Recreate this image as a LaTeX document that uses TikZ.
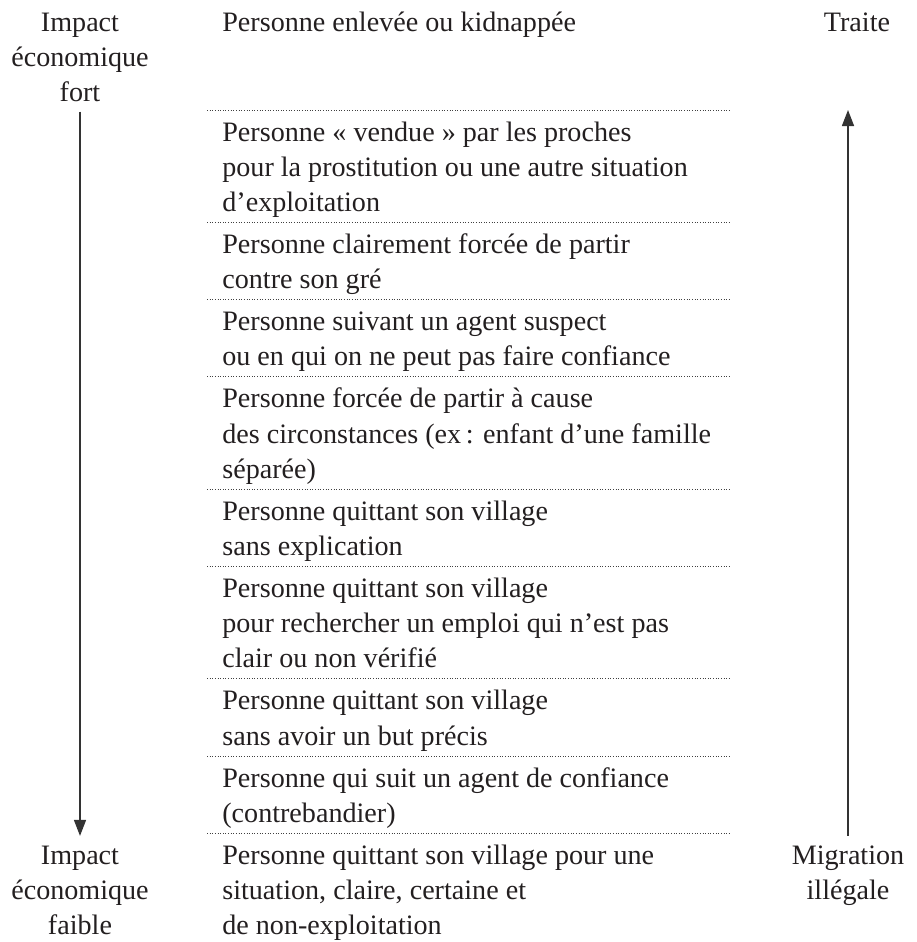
\documentclass[tikz,border=0pt]{standalone}
\usepackage{fontspec}
\setmainfont{Liberation Serif}
\usetikzlibrary{arrows.meta,positioning}
\definecolor{texte}{HTML}{231F20}

\begin{document}
\begin{tikzpicture}[
    font=\fontsize{16}{20}\selectfont,
    echelle/.style={text=texte, align=center, inner sep=5.5pt, anchor=base},
    ligne/.style={text=texte, align=left, anchor=base west, inner xsep=0.3cm},
    sep/.style={draw=black!75, densely dotted, line width=0.5pt},
    fleche/.style={-{Triangle[length=3.2mm, width=2.4mm]}, draw=black!80, line width=0.8pt}
]
    \useasboundingbox (0,0) rectangle (18.32,-18.84);

    % Echelles laterales (ancrees sur la derniere ligne)
    \node[echelle] (impact_fort) at (1.6,-2.028) {Impact\\économique\\fort};
    \node[echelle] (impact_faible) at (1.6,-18.692) {Impact\\économique\\faible};
    \node[echelle] (traite) at (17.14,-0.62) {Traite};
    \node[echelle] (migration) at (16.96,-17.988) {Migration\\illégale};
    \coordinate (pointe) at (16.95,-2.2);

    % Situations
    \node[ligne] (s0) at (4.14,-0.62) {Personne enlevée ou kidnappée};
    \node[ligne] (s1) at (4.14,-4.228) {
        Personne «~vendue~» par les proches\\
        pour la prostitution ou une autre situation\\
        d’exploitation
    };
    \node[ligne] (s2) at (4.14,-5.772) {
        Personne clairement forcée de partir\\
        contre son gré
    };
    \node[ligne] (s3) at (4.14,-7.316) {
        Personne suivant un agent suspect\\
        ou en qui on ne peut pas faire confiance
    };
    \node[ligne] (s4) at (4.14,-9.564) {
        Personne forcée de partir à cause\\
        des circonstances (ex\,: enfant d’une famille\\
        séparée)
    };
    \node[ligne] (s5) at (4.14,-11.108) {
        Personne quittant son village\\
        sans explication
    };
    \node[ligne] (s6) at (4.14,-13.356) {
        Personne quittant son village\\
        pour rechercher un emploi qui n’est pas\\
        clair ou non vérifié
    };
    \node[ligne] (s7) at (4.14,-14.9) {
        Personne quittant son village\\
        sans avoir un but précis
    };
    \node[ligne] (s8) at (4.14,-16.444) {
        Personne qui suit un agent de confiance\\
        (contrebandier)
    };
    \node[ligne] (s9) at (4.14,-18.692) {
        Personne quittant son village pour une\\
        situation, claire, certaine et\\
        de non-exploitation
    };

    % Separateurs pointilles
    \draw[sep] (4.14,-2.2) -- (14.6,-2.2);
    \draw[sep] (4.14,-4.448) -- (14.6,-4.448);
    \draw[sep] (4.14,-5.992) -- (14.6,-5.992);
    \draw[sep] (4.14,-7.536) -- (14.6,-7.536);
    \draw[sep] (4.14,-9.784) -- (14.6,-9.784);
    \draw[sep] (4.14,-11.328) -- (14.6,-11.328);
    \draw[sep] (4.14,-13.576) -- (14.6,-13.576);
    \draw[sep] (4.14,-15.12) -- (14.6,-15.12);
    \draw[sep] (4.14,-16.664) -- (14.6,-16.664);

    % Fleches
    \draw[fleche] (impact_fort.south) -- (impact_faible.north);
    \draw[fleche] (migration.north) -- (migration.north |- pointe);

\end{tikzpicture}
\end{document}
